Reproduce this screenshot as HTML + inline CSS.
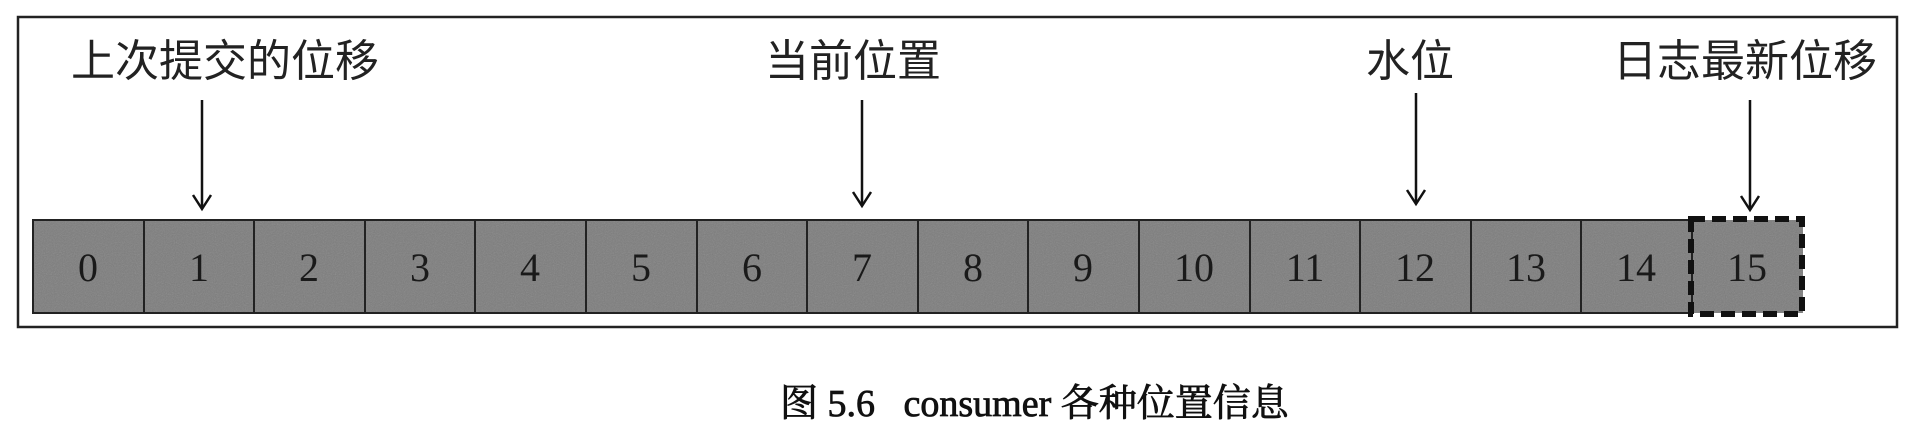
<!DOCTYPE html>
<html><head><meta charset="utf-8"><style>
body{margin:0;background:#fff;}
svg{display:block}
</style></head><body>
<svg width="1916" height="442" viewBox="0 0 1916 442" xmlns="http://www.w3.org/2000/svg">
<defs>
<filter id="n"><feTurbulence type="fractalNoise" baseFrequency="0.9" numOctaves="2" result="t"/><feColorMatrix type="saturate" values="0"/><feComponentTransfer><feFuncA type="table" tableValues="0 0.25"/></feComponentTransfer><feComposite in2="SourceGraphic" operator="in"/></filter>
</defs>
<rect x="18" y="17" width="1879" height="310" fill="none" stroke="#222" stroke-width="2.5"/>
<g font-family="Liberation Sans, 'Noto Sans CJK SC', sans-serif" font-size="44" fill="#222">
<text x="71" y="76">上次提交的位移</text>
<text x="765" y="76">当前位置</text>
<text x="1366" y="76">水位</text>
<text x="1613" y="76">日志最新位移</text>
</g>
<g stroke="#111" stroke-width="2.5" fill="none">
<line x1="202" y1="100" x2="202" y2="208"/><polyline points="193,195 202,209 211,195"/>
<line x1="862" y1="100" x2="862" y2="205"/><polyline points="853,192 862,206 871,192"/>
<line x1="1416" y1="93" x2="1416" y2="203"/><polyline points="1407,190 1416,204 1425,190"/>
<line x1="1750" y1="100" x2="1750" y2="209"/><polyline points="1741,196 1750,210 1759,196"/>
</g>
<rect x="33" y="220" width="1770" height="93" fill="#7c7c7c"/>
<rect x="33" y="220" width="1770" height="93" fill="#000" filter="url(#n)"/>
<rect x="33" y="220" width="1659" height="93" fill="none" stroke="#222" stroke-width="2"/>
<g stroke="#222" stroke-width="2">
<line x1="144" y1="220" x2="144" y2="313"/><line x1="254" y1="220" x2="254" y2="313"/><line x1="365" y1="220" x2="365" y2="313"/><line x1="475" y1="220" x2="475" y2="313"/><line x1="586" y1="220" x2="586" y2="313"/><line x1="697" y1="220" x2="697" y2="313"/><line x1="807" y1="220" x2="807" y2="313"/><line x1="918" y1="220" x2="918" y2="313"/><line x1="1028" y1="220" x2="1028" y2="313"/><line x1="1139" y1="220" x2="1139" y2="313"/><line x1="1250" y1="220" x2="1250" y2="313"/><line x1="1360" y1="220" x2="1360" y2="313"/><line x1="1471" y1="220" x2="1471" y2="313"/><line x1="1581" y1="220" x2="1581" y2="313"/>
</g>
<rect x="1691" y="219" width="111" height="95" fill="none" stroke="#111" stroke-width="6" stroke-dasharray="14,7"/>
<g font-family="Liberation Serif, serif" font-size="40" fill="#1a1a1a" text-anchor="middle">
<text x="88" y="281">0</text><text x="199" y="281">1</text><text x="309" y="281">2</text><text x="420" y="281">3</text><text x="530" y="281">4</text><text x="641" y="281">5</text><text x="752" y="281">6</text><text x="862" y="281">7</text><text x="973" y="281">8</text><text x="1083" y="281">9</text><text x="1194" y="281">10</text><text x="1305" y="281">11</text><text x="1415" y="281">12</text><text x="1526" y="281">13</text><text x="1636" y="281">14</text><text x="1747" y="281">15</text>
</g>
<text x="780" y="416" font-family="Liberation Serif, 'Noto Serif CJK SC', serif" font-size="38" fill="#111" stroke="#111" stroke-width="0.8" xml:space="preserve">图 5.6   consumer 各种位置信息</text>
</svg>
</body></html>
